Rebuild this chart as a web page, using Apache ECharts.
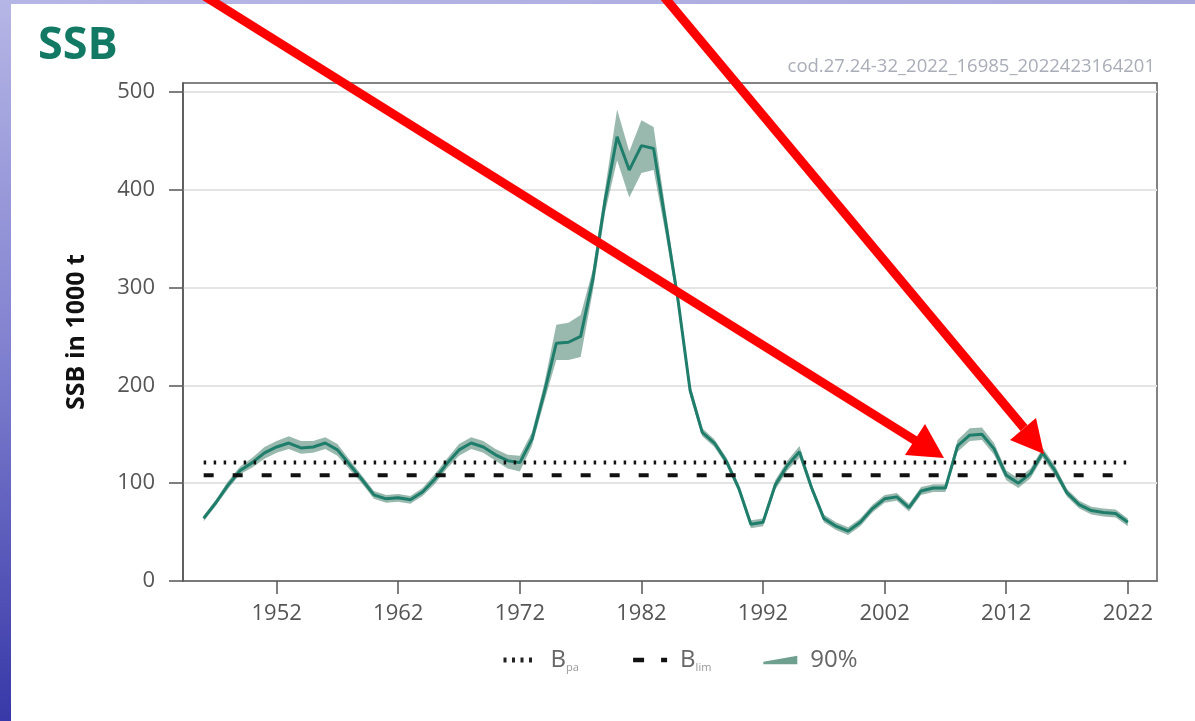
<!DOCTYPE html>
<html>
<head>
<meta charset="utf-8">
<script src="https://cdn.jsdelivr.net/npm/echarts@6/dist/echarts.min.js"></script>
<style>
html,body{margin:0;padding:0;background:#fff;}
#chart{width:1195px;height:721px;}
</style>
</head>
<body>
<div id="chart"></div>
<script>
// ---- data ----
const years = [1946,1947,1948,1949,1950,1951,1952,1953,1954,1955,1956,1957,1958,1959,1960,1961,1962,1963,1964,1965,1966,1967,1968,1969,1970,1971,1972,1973,1974,1975,1976,1977,1978,1979,1980,1981,1982,1983,1984,1985,1986,1987,1988,1989,1990,1991,1992,1993,1994,1995,1996,1997,1998,1999,2000,2001,2002,2003,2004,2005,2006,2007,2008,2009,2010,2011,2012,2013,2014,2015,2016,2017,2018,2019,2020,2021,2022];
const ssb = [64,80,98,113,121,131,137,141,136,137,141,134,119,104,88,84,85,83,91,104,120,134,141,137,129,123,121,145,192,243,244,250,308,388,454,420,445,442,366,288,195,152,141,122,95,58,60,98,118,132,95,64,56,51,60,74,84,86,75,92,95,95,138,149,150,135,108,100,110,131,113,90,78,72,70,69,60];
const ssbLow = [61,77,94,109,116,125,131,135,130,131,135,128,114,100,84,80,81,79,87,99,115,128,135,131,123,115,112,138,183,226,226,229,296,376,430,392,417,420,354,280,189,148,137,118,91,54,56,93,113,126,91,60,52,47,56,70,80,82,71,88,91,91,132,143,144,129,103,95,105,126,108,86,74,68,66,65,56];
const ssbHigh = [67,83,102,117,126,137,143,148,143,143,147,140,124,108,92,88,89,87,95,109,125,140,147,143,135,129,128,152,201,262,264,272,318,400,482,439,471,464,378,296,201,156,145,126,99,62,64,103,123,138,99,68,60,55,64,78,88,90,79,96,99,99,144,156,157,141,113,105,115,136,118,94,82,76,74,73,64];
const Bpa = 121;
const Blim = 108;
const xTickLabels = [1952,1962,1972,1982,1992,2002,2012,2022];
const yTickLabels = [0,100,200,300,400,500];
const titleText = 'SSB';
const codeText = 'cod.27.24-32_2022_16985_2022423164201';
const yAxisName = 'SSB in 1000 t';

const FONT = '"Open Sans", "Noto Sans", sans-serif';
const chart = echarts.init(document.getElementById('chart'), null, {renderer: 'canvas'});

const bandData = years.map((y, i) => [y, ssbLow[i], ssbHigh[i]]);

const option = {
  backgroundColor: '#ffffff',
  animation: false,
  title: [
    {text: titleText, left: 38, top: 24, padding: 0,
     textStyle: {fontFamily: FONT, fontSize: 45, fontWeight: 'bold', color: '#127a64'}},
    {text: codeText, right: 40, top: 57, padding: 0,
     textStyle: {fontFamily: FONT, fontSize: 18.5, fontWeight: 'normal', color: '#a9adb8'}}
  ],
  grid: {left: 183, top: 83, right: 38, bottom: 140, show: true,
         borderColor: '#5a5a5a', borderWidth: 1.5, backgroundColor: 'transparent'},
  legend: {
    left: 496, top: 643, itemWidth: 34, itemHeight: 14, itemGap: 52,
    data: [
      {name: 'Bpa', itemStyle: {opacity: 0}, lineStyle: {color: '#222', width: 5, type: [3, 5.5]}},
      {name: 'Blim', itemStyle: {opacity: 0}, lineStyle: {color: '#111', width: 4.5, type: [11, 17]}},
      {name: '90%', icon: 'path://M0,7 L40,0 L40,10 L0,10 Z'}
    ],
    formatter: function (name) {
      if (name === 'Bpa') return '{b|B}{s|pa}';
      if (name === 'Blim') return '{b|B}{sl|lim}';
      return '{b|' + name + '}';
    },
    textStyle: {
      fontFamily: FONT, color: '#666',
      rich: {
        b: {fontFamily: FONT, fontSize: 24, color: '#666', padding: [0, 0, 0, 8]},
        s: {fontFamily: FONT, fontSize: 11, color: '#999', padding: [15, 0, 0, 0]},
        sl: {fontFamily: FONT, fontSize: 11, color: '#999', padding: [15, 16, 0, 0]}
      }
    }
  },
  xAxis: {
    type: 'value', min: 1944.3, max: 2024.4,
    axisLine: {show: true, onZero: false, lineStyle: {color: '#555', width: 1.5}},
    axisTick: {show: true, customValues: xTickLabels, length: 13, lineStyle: {color: '#555', width: 1.5}},
    axisLabel: {customValues: xTickLabels, margin: 22, fontFamily: FONT, fontSize: 22, color: '#555',
                formatter: v => String(v)},
    splitLine: {show: false}
  },
  yAxis: {
    type: 'value', min: 0, max: 509,
    name: yAxisName, nameLocation: 'middle', nameGap: 94, nameRotate: 90,
    nameTextStyle: {fontFamily: FONT, fontSize: 25, fontWeight: 'bold', color: '#111'},
    axisLine: {show: true, lineStyle: {color: '#555', width: 1.5}},
    axisTick: {show: true, customValues: yTickLabels, length: 14, lineStyle: {color: '#555', width: 1.5}},
    axisLabel: {customValues: yTickLabels, margin: 28, fontFamily: FONT, fontSize: 22, color: '#555'},
    splitLine: {show: true, lineStyle: {color: '#e4e4e4', width: 2}}
  },
  series: [
    {
      name: '90%', type: 'custom', z: 1,
      itemStyle: {color: '#6f9f8f'},
      encode: {x: 0, y: [1, 2]},
      data: bandData,
      renderItem: function (params, api) {
        if (params.dataIndex !== 0) return null;
        const pts = [];
        for (let i = 0; i < bandData.length; i++) pts.push(api.coord([bandData[i][0], bandData[i][2]]));
        for (let i = bandData.length - 1; i >= 0; i--) pts.push(api.coord([bandData[i][0], bandData[i][1]]));
        return {type: 'polygon', shape: {points: pts},
                style: {fill: 'rgba(70,128,108,0.55)', stroke: 'none'}};
      }
    },
    {
      name: 'SSB', type: 'line', z: 3, symbol: 'none', smooth: false,
      data: years.map((y, i) => [y, ssb[i]]),
      lineStyle: {color: '#1f7d6b', width: 3},
      itemStyle: {color: '#1f7d6b'}
    },
    {
      name: 'Bpa', type: 'line', z: 4, symbol: 'none',
      data: [[years[0], Bpa], [years[years.length - 1], Bpa]],
      lineStyle: {color: '#111', width: 4, type: [2.5, 7.5]},
      itemStyle: {color: '#111'}
    },
    {
      name: 'Blim', type: 'line', z: 4, symbol: 'none',
      data: [[years[0], Blim], [years[years.length - 1], Blim]],
      lineStyle: {color: '#111', width: 4, type: [10, 19]},
      itemStyle: {color: '#111'}
    }
  ],
  graphic: [
    {type: 'rect', z: 100, shape: {x: 0, y: 0, width: 11, height: 721},
     style: {fill: new echarts.graphic.LinearGradient(0, 0, 0, 1, [
       {offset: 0, color: '#b6b6e6'}, {offset: 0.5, color: '#7f7fcf'}, {offset: 1, color: '#3838a8'}])}},
    {type: 'rect', z: 100, shape: {x: 0, y: 0, width: 1195, height: 4},
     style: {fill: new echarts.graphic.LinearGradient(0, 0, 1, 0, [
       {offset: 0, color: '#b6b6e6'}, {offset: 1, color: '#a9a9dd'}])}},
    // red annotation arrows
    {type: 'line', z: 100, shape: {x1: 198, y1: -8, x2: 916, y2: 441},
     style: {stroke: '#ff0000', lineWidth: 9}},
    {type: 'polygon', z: 100, shape: {points: [[944, 458], [905, 455], [925, 424]]},
     style: {fill: '#ff0000'}},
    {type: 'line', z: 100, shape: {x1: 660, y1: -8, x2: 1024, y2: 428},
     style: {stroke: '#ff0000', lineWidth: 9}},
    {type: 'polygon', z: 100, shape: {points: [[1044, 454], [1010, 440], [1036, 418]]},
     style: {fill: '#ff0000'}}
  ]
};
chart.setOption(option);
</script>
</body>
</html>
